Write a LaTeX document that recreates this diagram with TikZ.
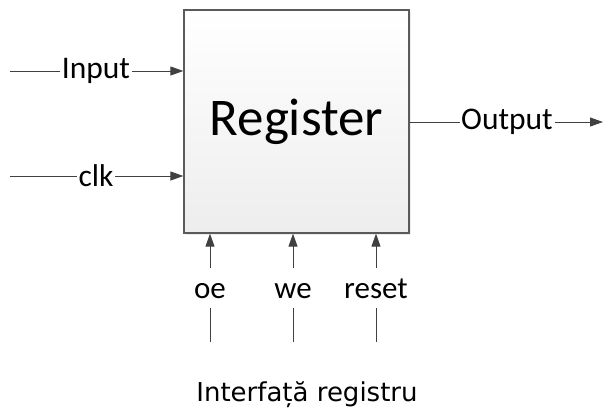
\documentclass[tikz,border=0pt]{standalone}
\usepackage{fontspec}
\setmainfont{Carlito}
\newfontfamily\capfont{DejaVu Sans}
\usetikzlibrary{arrows.meta,shadows}

\definecolor{wire}{HTML}{404040}
\definecolor{frame}{HTML}{5A5A5A}

\tikzset{
  regbox/.style={draw=frame, line width=1.3pt, top color=white, bottom color=black!7,
    minimum width=225pt, minimum height=223pt, inner sep=0pt,
    drop shadow={shadow xshift=1.5pt, shadow yshift=-1.5pt, opacity=0.15},
    font=\fontsize{53}{62}\selectfont},
  sig/.style={inner xsep=1.5pt, inner ysep=0pt, font=\fontsize{31.5}{38}\selectfont},
  ctl/.style={inner xsep=0pt, inner ysep=8pt, text height=22pt, text depth=2pt,
    anchor=base, font=\fontsize{31}{37}\selectfont},
  wireto/.style={draw=wire, line width=1pt},
  wirearr/.style={wireto, -{Triangle[length=13pt,width=9pt]}}
}

\begin{document}
\begin{tikzpicture}[x=1pt,y=-1pt]

\useasboundingbox (0,0) rectangle (604,410);

% the register block
\node[regbox] (reg) at (296.5,121.5) {Register};

% inputs on the left
\coordinate (inS) at (10,71);
\node[sig] (input) at (96,71) {Input};
\draw[wireto] (inS) -- (input);
\draw[wirearr] (input) -- (reg.west |- input);

\coordinate (clkS) at (10,176);
\node[sig] (clk) at (96,176) {clk};
\draw[wireto] (clkS) -- (clk);
\draw[wirearr] (clk) -- (reg.west |- clk);

% output on the right
\node[sig] (output) at (507,122) {Output};
\coordinate (outE) at (603,122);
\draw[wireto] (reg.east |- output) -- (output);
\draw[wirearr] (output) -- (outE);

% control lines below
\foreach \px/\nm in {210/oe, 293/we, 376/reset}{
  \node[ctl] (\nm) at (\px,298) {\nm};
  \coordinate (\nm S) at (\px,342);
  \draw[wireto] (\nm S) -- (\nm);
  \draw[wirearr] (\nm) -- (reg.south -| \nm);
}

% caption
\node[font=\capfont\fontsize{26}{31}\selectfont, inner sep=0pt, anchor=base] (cap) at (307,401) {Interfață registru};

\end{tikzpicture}
\end{document}
